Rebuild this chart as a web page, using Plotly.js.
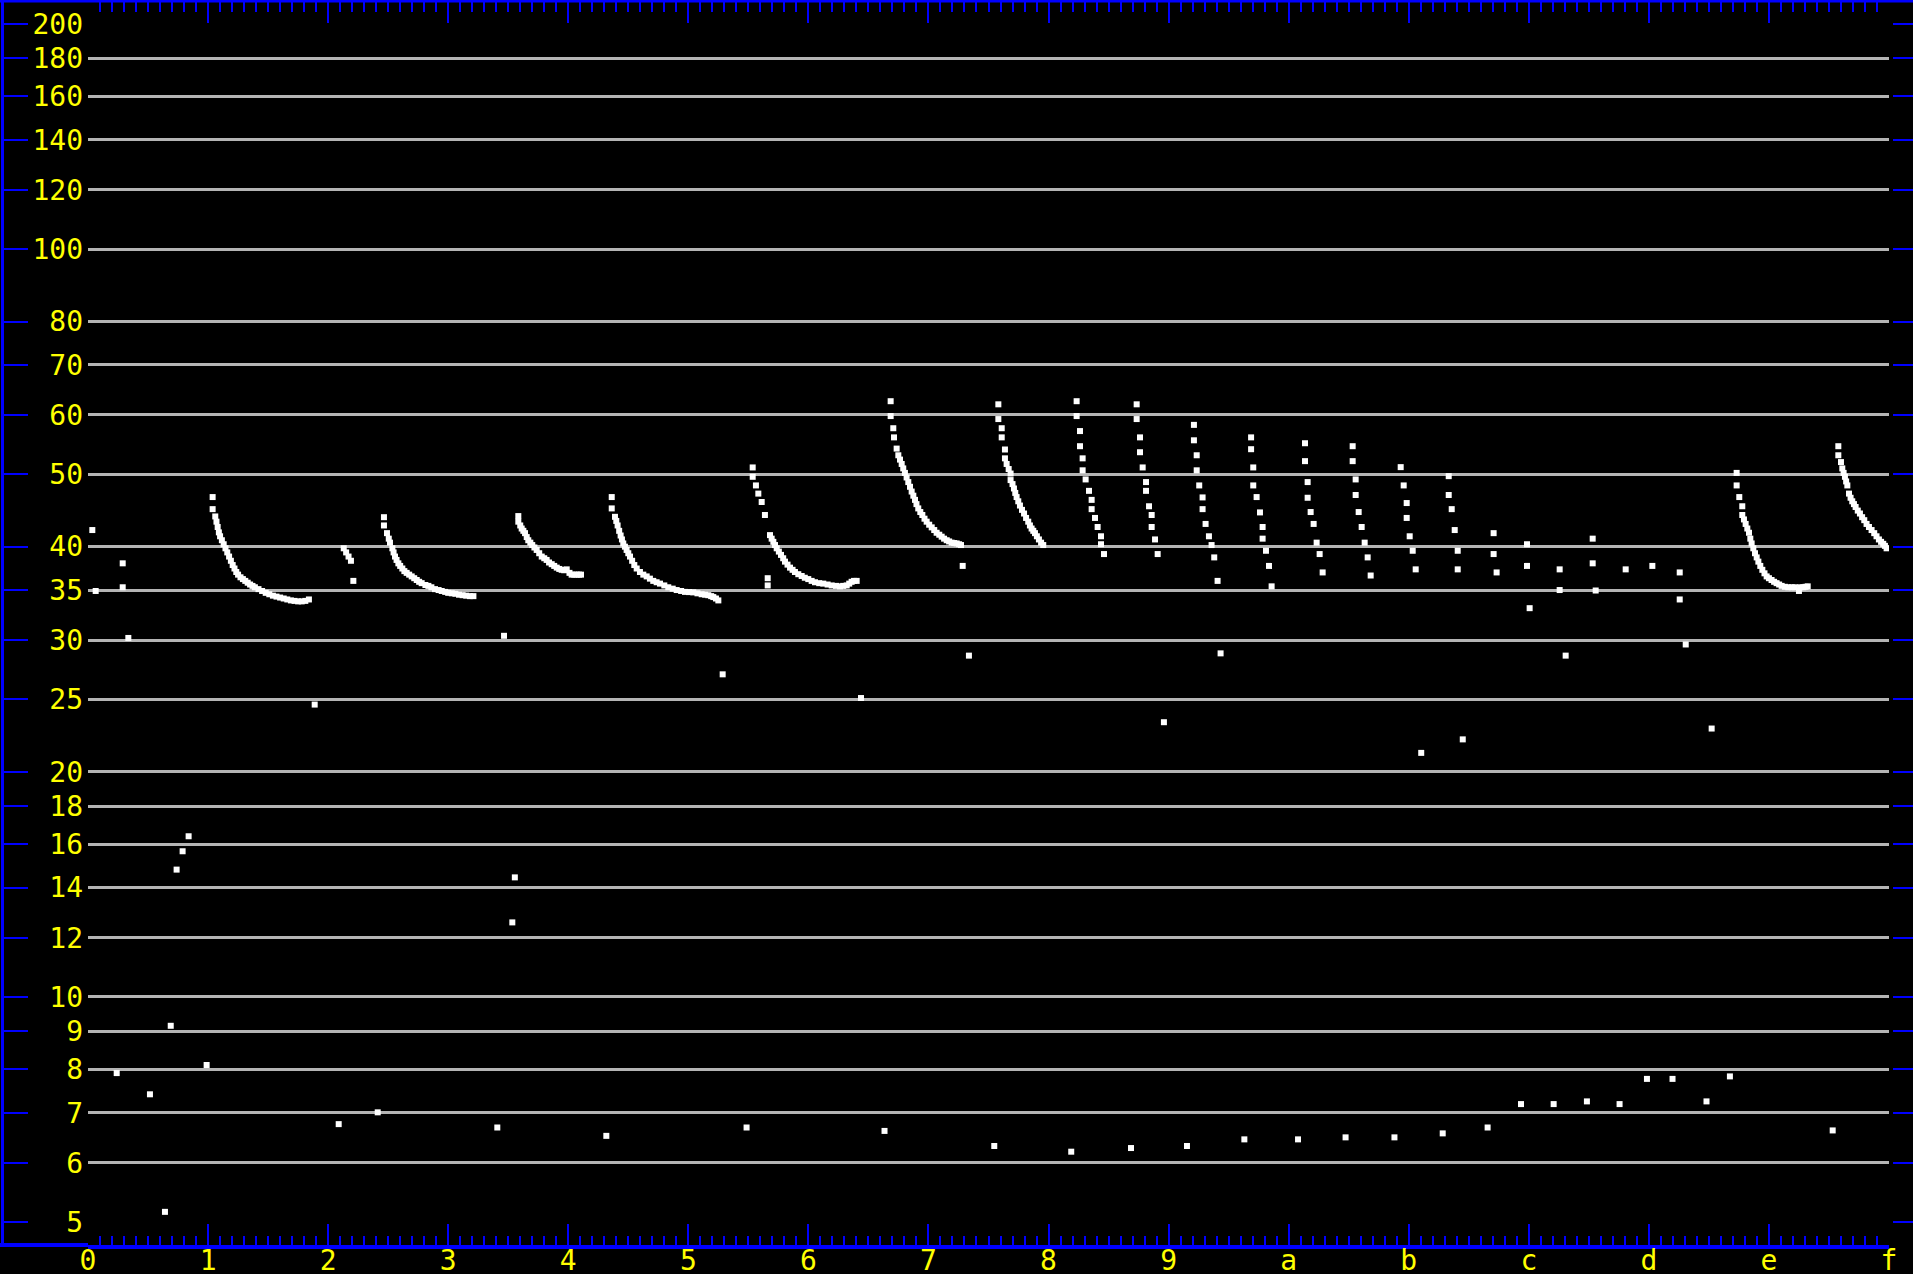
<!DOCTYPE html>
<html><head><meta charset="utf-8">
<script src="https://cdn.plot.ly/plotly-3.0.1.min.js"></script>
<style>html,body{margin:0;padding:0;background:#000;overflow:hidden}#chart{width:1913px;height:1274px}</style>
</head><body><div id="chart"></div>
<script>
// ---- tick labels ----
const xTickVals = [0,1,2,3,4,5,6,7,8,9,10,11,12,13,14,15];
const xTickText = ['0','1','2','3','4','5','6','7','8','9','a','b','c','d','e','f'];
const yLabelVals = [5,6,7,8,9,10,12,14,16,18,20,25,30,35,40,50,60,70,80,100,120,140,160,180,200];
const yLabelText = ['5','6','7','8','9','10','12','14','16','18','20','25','30','35','40','50','60','70','80','100','120','140','160','180','200'];
const yGridVals = [6,7,8,9,10,12,14,16,18,20,25,30,35,40,50,60,70,80,100,120,140,160,180];

// ---- sweep curves (dense dotted runs) ----
const sweepX = [
 1.038,1.038,1.06,1.07,1.08,1.09,1.10,1.115,1.13,1.145,1.16,1.175,1.19,1.205,1.22,1.235,1.25,1.27,1.29,1.31,1.33,1.35,1.37,1.39,1.42,1.45,1.48,1.51,1.54,1.57,1.60,1.63,1.66,1.69,1.72,1.75,1.78,1.81,1.84,
 2.13,2.15,2.17,2.19,
 2.465,2.465,2.49,2.505,2.515,2.535,2.545,2.557,2.57,2.585,2.60,2.618,2.635,2.654,2.675,2.696,2.717,2.738,2.758,2.779,2.81,2.835,2.86,2.89,2.92,2.946,2.975,3.00,3.03,3.06,3.09,3.12,3.15,3.18,3.21,
 3.584,3.584,3.60,3.612,3.626,3.640,3.654,3.667,3.684,3.700,3.718,3.737,3.758,3.779,3.80,3.82,3.84,3.862,3.883,3.904,3.925,3.945,3.966,3.987,4.01,4.028,4.05,4.07,4.09,4.106,
 4.362,4.362,4.389,4.40,4.411,4.424,4.436,4.447,4.458,4.472,4.486,4.50,4.514,4.532,4.550,4.57,4.597,4.625,4.653,4.68,4.708,4.736,4.764,4.80,4.833,4.87,4.903,4.94,4.972,5.006,5.041,5.076,5.111,5.14,5.166,5.19,5.208,5.23,5.25,
 5.536,5.536,5.563,5.583,5.611,5.638,5.680,5.694,5.708,5.722,5.736,5.754,5.772,5.79,5.805,5.826,5.847,5.868,5.888,5.916,5.944,5.97,5.999,6.027,6.055,6.09,6.124,6.16,6.194,6.23,6.263,6.29,6.319,6.34,6.360,6.38,6.402,
 6.685,6.685,6.707,6.713,6.735,6.749,6.763,6.777,6.790,6.804,6.818,6.832,6.846,6.860,6.874,6.888,6.90,6.915,6.932,6.949,6.967,6.985,7.006,7.027,7.048,7.068,7.09,7.110,7.13,7.152,7.172,7.193,7.214,7.235,7.255,7.271,
 7.582,7.582,7.610,7.610,7.637,7.637,7.651,7.668,7.684,7.684,7.700,7.712,7.723,7.734,7.748,7.762,7.779,7.796,7.813,7.831,7.845,7.859,7.873,7.887,7.903,7.920,7.938,7.956,
 8.234,8.234,8.262,8.262,8.284,8.284,8.309,8.337,8.359,8.359,8.387,8.409,8.437,8.437,8.462,
 8.734,8.734,8.762,8.762,8.784,8.812,8.812,8.837,8.859,8.859,8.887,8.909,
 9.211,9.211,9.234,9.234,9.255,9.283,9.283,9.308,9.336,9.358,9.380,9.408,
 9.687,9.687,9.705,9.705,9.733,9.761,9.783,9.783,9.811,9.836,9.858,
 10.136,10.136,10.158,10.158,10.183,10.208,10.233,10.258,10.283,
 10.533,10.533,10.558,10.558,10.583,10.608,10.633,10.658,10.683,
 10.933,10.958,10.983,10.983,11.008,11.033,11.058,
 11.333,11.333,11.358,11.383,11.408,11.408,
 13.731,13.731,13.753,13.778,13.778,13.792,13.806,13.82,13.834,13.845,13.856,13.87,13.884,13.898,13.912,13.928,13.945,13.963,13.981,14.0,14.022,14.043,14.064,14.085,14.106,14.133,14.161,14.19,14.216,14.25,14.26,14.286,14.305,14.323,
 14.578,14.578,14.600,14.611,14.622,14.633,14.643,14.653,14.667,14.68,14.694,14.708,14.722,14.74,14.758,14.776,14.794,14.813,14.833,14.855,14.877,14.896,14.916,14.934,14.952,14.966,14.980
];
const sweepY = [
 46.6,44.9,43.9,43.2,42.5,41.8,41.3,40.8,40.3,39.8,39.3,38.8,38.3,37.8,37.4,37.0,36.7,36.4,36.2,36.0,35.8,35.6,35.45,35.3,35.1,34.9,34.7,34.55,34.4,34.3,34.2,34.1,34.0,33.9,33.85,33.8,33.8,33.85,34.0,
 39.8,39.3,38.8,38.3,
 43.8,42.7,41.7,41.0,40.5,39.8,39.3,38.8,38.4,38.0,37.7,37.4,37.1,36.9,36.7,36.5,36.3,36.1,35.9,35.75,35.55,35.45,35.3,35.1,35.0,34.9,34.8,34.7,34.65,34.6,34.5,34.45,34.4,34.35,34.35,
 43.95,43.2,42.7,42.3,42.0,41.7,41.2,40.8,40.5,40.2,39.9,39.6,39.2,38.8,38.6,38.4,38.1,37.9,37.7,37.5,37.35,37.25,37.2,37.3,36.9,36.7,36.7,36.7,36.7,36.7,
 46.6,45.0,43.85,43.3,42.7,42.0,41.4,40.9,40.4,40.0,39.6,39.2,38.8,38.3,37.8,37.4,37.0,36.7,36.5,36.25,36.0,35.85,35.7,35.5,35.3,35.15,35.0,34.9,34.8,34.78,34.75,34.65,34.55,34.5,34.45,34.35,34.25,34.1,33.9,
 51.05,49.6,48.3,47.1,45.9,44.1,41.45,41.0,40.6,40.2,39.8,39.4,39.0,38.6,38.2,37.85,37.5,37.25,37.0,36.75,36.55,36.35,36.2,36.0,35.85,35.75,35.7,35.6,35.5,35.45,35.4,35.45,35.5,35.7,35.9,36.0,36.0,
 62.6,59.8,57.6,56.0,54.1,53.0,52.3,51.6,50.9,50.2,49.5,48.8,48.1,47.4,46.8,46.2,45.6,45.0,44.5,44.1,43.6,43.2,42.8,42.45,42.1,41.75,41.5,41.25,41.0,40.8,40.65,40.5,40.45,40.4,40.3,40.2,
 62.0,59.25,57.6,56.0,53.95,52.5,51.6,50.8,50.1,49.1,48.5,47.85,47.2,46.6,46.0,45.4,44.8,44.3,43.7,43.2,42.7,42.3,42.0,41.7,41.3,40.9,40.5,40.2,
 62.6,59.8,57.1,54.5,52.5,50.6,49.2,47.5,46.2,44.9,43.7,42.5,41.3,40.3,39.1,
 62.0,59.25,56.0,53.5,51.05,48.8,47.5,45.3,44.1,42.5,40.9,39.1,
 58.2,55.5,53.0,50.6,48.3,46.55,44.9,42.9,41.3,40.2,38.7,36.0,
 56.0,54.0,51.05,48.3,46.6,44.45,42.5,41.0,39.5,37.7,35.4,
 55.0,52.05,48.8,46.5,44.5,42.9,40.5,39.1,36.95,
 54.5,52.05,49.2,46.9,44.5,42.5,40.5,38.7,36.6,
 51.1,48.3,45.75,43.7,41.3,39.5,37.3,
 49.7,46.9,44.9,42.1,39.5,37.3,
 50.2,48.3,46.6,45.3,44.1,43.5,42.9,42.3,41.75,41.0,40.4,39.8,39.2,38.7,38.2,37.7,37.25,36.85,36.5,36.3,36.1,35.9,35.75,35.6,35.45,35.35,35.3,35.3,35.3,34.9,35.3,35.3,35.35,35.4,
 54.5,53.0,51.9,50.9,50.2,49.6,48.9,48.3,47.1,46.5,46.0,45.6,45.2,44.7,44.3,43.8,43.4,42.9,42.5,42.1,41.7,41.3,40.9,40.6,40.35,40.1,39.8
];

// ---- isolated points ----
const scatterX = [0.036,0.064,0.289,0.289,0.336,0.239,0.516,0.689,0.988,0.641,0.738,0.788,0.838,
 1.888,2.21,2.088,2.413,3.409,3.465,3.555,3.534,4.317,5.286,5.485,5.661,5.661,6.438,6.634,7.285,7.337,7.548,
 8.189,8.687,8.961,9.153,9.433,9.631,10.078,10.474,10.881,11.104,11.283,11.450,11.657,
 11.707,11.707,11.732,11.935,11.985,11.985,12.007,12.207,12.257,12.257,12.307,12.484,12.532,12.532,12.557,
 12.756,12.807,12.984,13.029,13.197,13.257,13.257,13.307,13.48,13.523,13.675,14.531];
const scatterY = [42.1,34.9,38.0,35.3,30.2,7.91,7.41,9.15,8.11,5.16,14.8,15.66,16.4,
 24.6,36.0,6.76,7.01,6.69,30.4,14.45,12.58,6.52,27.0,6.69,36.3,35.5,25.1,6.62,37.7,28.6,6.32,
 6.21,6.28,23.3,6.32,28.8,6.45,6.45,6.49,6.49,21.2,6.57,22.1,6.69,
 41.7,39.1,36.95,7.19,40.3,37.7,33.1,7.19,37.3,35.0,28.6,7.25,41.0,38.0,34.95,
 7.19,37.3,7.77,37.7,7.77,36.95,34.0,29.6,7.25,22.85,7.83,6.63];

const W = 1913, H = 1274;
const BLUE = '#0000ff', YEL = '#ffff00';
const yRange = [0.66832, 2.33168];
const tickFont = {family: 'DejaVu Sans Mono, monospace', size: 28, color: YEL};
const mk = {symbol: 'square', size: 6, color: '#ffffff', line: {width: 0}};

const traces = [
  {type: 'scatter', mode: 'markers', x: sweepX, y: sweepY, marker: mk, hoverinfo: 'skip'},
  {type: 'scatter', mode: 'markers', x: scatterX, y: scatterY, marker: mk, hoverinfo: 'skip'},
  {type: 'scatter', mode: 'markers', x: [], y: [], xaxis: 'x2', yaxis: 'y', hoverinfo: 'skip'},
  {type: 'scatter', mode: 'markers', x: [], y: [], xaxis: 'x', yaxis: 'y2', hoverinfo: 'skip'},
  {type: 'scatter', mode: 'markers', x: [], y: [], xaxis: 'x', yaxis: 'y3', hoverinfo: 'skip'},
  {type: 'scatter', mode: 'markers', x: [], y: [], xaxis: 'x', yaxis: 'y4', hoverinfo: 'skip'}
];

const xCommon = {
  range: [0, 15], tickmode: 'array', tickvals: xTickVals, ticktext: xTickText,
  ticks: 'inside', tickwidth: 2, tickcolor: BLUE, showline: true, linecolor: BLUE,
  showgrid: false, zeroline: false, fixedrange: true
};
const yCommon = {type: 'log', range: yRange, showgrid: false, zeroline: false, fixedrange: true};

const layout = {
  width: W, height: H,
  margin: {l: 0, r: 0, t: 1, b: 29, pad: 0},
  paper_bgcolor: '#000000', plot_bgcolor: '#000000',
  showlegend: false,
  xaxis: Object.assign({}, xCommon, {
    domain: [88 / W, 1889 / W], anchor: 'y', side: 'bottom',
    ticklen: 21, linewidth: 4, tickfont: tickFont, ticklabelstandoff: -13,
    minor: {tickmode: 'linear', tick0: 0, dtick: 0.1, ticks: 'inside', ticklen: 9, tickwidth: 2, tickcolor: BLUE, showgrid: false}
  }),
  xaxis2: Object.assign({}, xCommon, {
    overlaying: 'x', anchor: 'y', side: 'top', ticklen: 22, linewidth: 3, showticklabels: false,
    minor: {tickmode: 'linear', tick0: 0, dtick: 0.1, ticks: 'inside', ticklen: 11, tickwidth: 2, tickcolor: BLUE, showgrid: false}
  }),
  yaxis: Object.assign({}, yCommon, {
    domain: [0, 1], anchor: 'x', tickmode: 'array', tickvals: yGridVals,
    showgrid: true, gridcolor: '#b4b4b4', gridwidth: 3, showticklabels: false, ticks: '', showline: false
  }),
  yaxis2: Object.assign({}, yCommon, {
    overlaying: 'y', anchor: 'x', side: 'left', tickmode: 'array', tickvals: yLabelVals, ticktext: yLabelText,
    ticks: '', showline: false, tickfont: tickFont, ticklabelstandoff: 4
  }),
  yaxis3: Object.assign({}, yCommon, {
    overlaying: 'y', anchor: 'free', position: 1.5 / W, side: 'left', tickmode: 'array', tickvals: yLabelVals,
    ticks: 'inside', ticklen: 24, tickwidth: 2, tickcolor: BLUE, showline: true, linecolor: BLUE, linewidth: 3,
    showticklabels: false
  }),
  yaxis4: Object.assign({}, yCommon, {
    overlaying: 'y', anchor: 'free', position: 1, side: 'right', tickmode: 'array', tickvals: yLabelVals,
    ticks: 'inside', ticklen: 20, tickwidth: 2, tickcolor: BLUE, showline: false, showticklabels: false
  }),
  shapes: [
    {type: 'line', xref: 'paper', yref: 'paper', x0: 0, x1: 1, y0: 1, y1: 1, line: {color: BLUE, width: 3}},
    {type: 'line', xref: 'paper', yref: 'paper', x0: 0, x1: 88 / W, y0: 0, y1: 0, line: {color: BLUE, width: 4}}
  ]
};

Plotly.newPlot('chart', traces, layout, {displayModeBar: false, staticPlot: true});
</script>
</body></html>
